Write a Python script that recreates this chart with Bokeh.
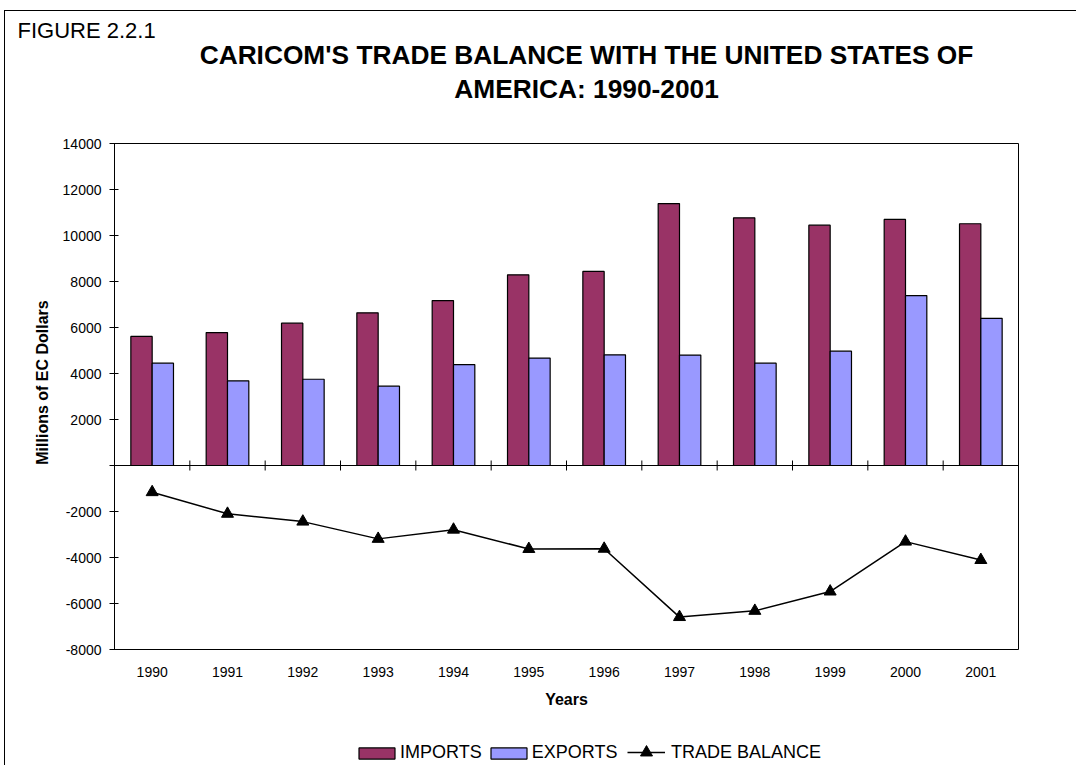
from math import pi
from bokeh.plotting import figure
from bokeh.models import (Label, Legend, LegendItem, Span, FixedTicker, Range1d,
                          ColumnDataSource)
from bokeh.transform import dodge
from bokeh.embed import file_html
from bokeh.resources import INLINE

# ---- data (millions of EC dollars) ----
years = [1990, 1991, 1992, 1993, 1994, 1995, 1996, 1997, 1998, 1999, 2000, 2001]
imports = [5610, 5780, 6190, 6640, 7170, 8290, 8440, 11390, 10770, 10450, 10700, 10510]
exports = [4450, 3680, 3750, 3450, 4390, 4670, 4810, 4800, 4450, 4970, 7390, 6400]
trade_balance = [-1160, -2100, -2440, -3190, -2790, -3630, -3620, -6590, -6320, -5480, -3310, -4110]
y_ticks = [-8000, -6000, -4000, -2000, 0, 2000, 4000, 6000, 8000, 10000, 12000, 14000]

FONT = "Liberation Sans"
IMP_COLOR, EXP_COLOR = "#993366", "#9999FF"
PAGE_W, PAGE_H = 1081, 767
W, H = 1072, 755
FR_L, FR_T, FR_R, FR_B = 109, 132, 1013, 638   # frame edges in canvas px

# ---------------- main chart ----------------
chart = figure(width=W, height=H, output_backend="svg", toolbar_location=None,
               x_range=Range1d(years[0] - 0.5, years[-1] + 0.5),
               y_range=Range1d(y_ticks[0], y_ticks[-1]),
               min_border_left=FR_L, min_border_right=W - FR_R,
               min_border_top=FR_T, min_border_bottom=H - FR_B, title=None)
chart.styles = {"position": "absolute", "left": "4px", "top": "10px",
                "border-left": "1px solid #000", "border-top": "1px solid #000"}
chart.background_fill_color = "white"
chart.border_fill_color = "white"
chart.outline_line_color = "black"
chart.outline_line_width = 1
chart.outline_line_alpha = 1
chart.xgrid.visible = False
chart.ygrid.visible = False

src = ColumnDataSource(dict(year=years, imports=imports, exports=exports, tb=trade_balance))
BAR_W = 0.283
bar_style = dict(width=BAR_W, bottom=0, line_color="black", line_width=1.2, source=src)
chart.vbar(x=dodge("year", -BAR_W / 2, range=chart.x_range), top="imports",
           fill_color=IMP_COLOR, **bar_style)
chart.vbar(x=dodge("year", BAR_W / 2, range=chart.x_range), top="exports",
           fill_color=EXP_COLOR, **bar_style)

chart.add_layout(Span(location=0, dimension="width", line_color="black", line_width=1))
seps = [y + 0.5 for y in years[:-1]]
chart.scatter(x=seps, y=[0] * len(seps), marker="dash", angle=pi / 2, size=10,
              line_color="black", line_width=1)

chart.line("year", "tb", source=src, line_color="black", line_width=1.5)
chart.scatter("year", "tb", source=src, marker="triangle", size=12,
              fill_color="black", line_color="black")

ya = chart.yaxis[0]
ya.ticker = FixedTicker(ticks=y_ticks)
ya.major_label_overrides = {t: ("" if t == 0 else str(t)) for t in y_ticks}
ya.major_tick_in = 4
ya.major_tick_out = 5
ya.minor_tick_line_color = None
ya.axis_line_color = "black"
ya.major_tick_line_color = "black"
ya.major_label_text_font = FONT
ya.major_label_text_font_size = "14px"
ya.major_label_text_color = "black"
ya.major_label_standoff = 8

xa = chart.xaxis[0]
xa.ticker = FixedTicker(ticks=years)
xa.axis_line_color = None
xa.major_tick_line_color = None
xa.minor_tick_line_color = None
xa.major_tick_out = 0
xa.major_tick_in = 0
xa.major_label_text_font = FONT
xa.major_label_text_font_size = "14px"
xa.major_label_text_color = "black"
xa.major_label_standoff = 17
xa.axis_label = "Years"
xa.axis_label_text_font = FONT
xa.axis_label_text_font_size = "16px"
xa.axis_label_text_font_style = "bold"
xa.axis_label_text_color = "black"
xa.axis_label_standoff = 11

# ---------------- transparent text layer (page pixel coordinates) ----------------
overlay = figure(width=PAGE_W, height=PAGE_H, output_backend="svg", toolbar_location=None,
                 x_range=Range1d(0, PAGE_W), y_range=Range1d(PAGE_H, 0),
                 x_axis_type=None, y_axis_type=None, min_border=0, title=None)
overlay.styles = {"position": "absolute", "left": "0px", "top": "0px"}
overlay.background_fill_color = None
overlay.border_fill_color = None
overlay.outline_line_color = None

def lab(text, x, y, size, bold=False, align="left", angle=0):
    overlay.add_layout(Label(x=x, y=y, text=text, text_font=FONT, text_font_size=size,
                             text_color="black", text_font_style="bold" if bold else "normal",
                             text_align=align, text_baseline="alphabetic", angle=angle))

lab("FIGURE 2.2.1", 17, 30, "22px")
lab("CARICOM'S TRADE BALANCE WITH THE UNITED STATES OF", 586, 54.5, "26.3px", bold=True, align="center")
lab("AMERICA: 1990-2001", 586, 88, "26.3px", bold=True, align="center")
lab("Millions of EC Dollars", 42, 382, "16px", bold=True, align="center", angle=pi / 2)

# legend swatches: hidden copies of the chart's series (they draw nothing here)
k_imp = overlay.vbar(x="year", top="imports", fill_color=IMP_COLOR, visible=False, **bar_style)
k_exp = overlay.vbar(x="year", top="exports", fill_color=EXP_COLOR, visible=False, **bar_style)
k_line = overlay.line("year", "tb", source=src, line_color="black", line_width=1.5, visible=False)
k_tri = overlay.scatter("year", "tb", source=src, marker="triangle", fill_color="black",
                        line_color="black", visible=False)

common = dict(orientation="horizontal", padding=0, margin=0, border_line_color=None,
              background_fill_alpha=0, label_text_font=FONT, label_text_font_size="18px",
              label_text_color="black", click_policy="none")
leg_bars = Legend(items=[LegendItem(label="IMPORTS", renderers=[k_imp]),
                         LegendItem(label="EXPORTS", renderers=[k_exp])],
                  location=(354, 4), glyph_width=45, glyph_height=14,
                  label_standoff=1, spacing=4, **common)
leg_line = Legend(items=[LegendItem(label="TRADE BALANCE", renderers=[k_line, k_tri])],
                  location=(627, 0), glyph_width=38, glyph_height=30,
                  label_standoff=6, spacing=4, **common)
overlay.add_layout(leg_bars, "center")
overlay.add_layout(leg_line, "center")

open("out.html", "w").write(file_html([chart, overlay], INLINE))
